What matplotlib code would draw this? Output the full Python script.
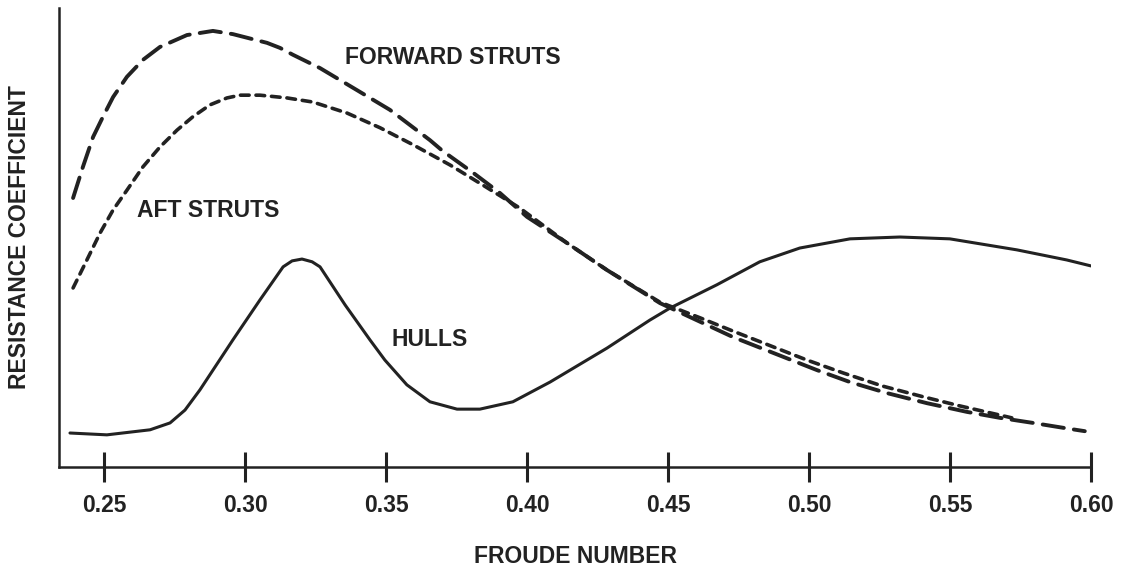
"""Resistance coefficient vs Froude number for hulls, forward and aft struts."""

import matplotlib.pyplot as plt

plt.switch_backend("Agg")
plt.rcParams["font.family"] = ["Liberation Sans", "DejaVu Sans"]

INK = "#222222"

# values (arbitrary resistance units, 0..1)
forward_froude = [0.2389, 0.2424, 0.2460, 0.2495, 0.2531, 0.2580, 0.2637, 0.2697, 0.2793,
                  0.2885, 0.2956, 0.3077, 0.3123, 0.3169, 0.3265, 0.3396, 0.3513, 0.3655,
                  0.3701, 0.3808, 0.3903, 0.3999, 0.4141, 0.4283, 0.4471, 0.4730, 0.5028,
                  0.5145, 0.5276, 0.5418, 0.5560, 0.5677, 0.5794, 0.5925, 0.5978]
forward_coef = [0.586, 0.654, 0.719, 0.763, 0.806, 0.850, 0.887, 0.915, 0.941,
                0.950, 0.943, 0.924, 0.913, 0.898, 0.869, 0.821, 0.778, 0.712,
                0.688, 0.641, 0.597, 0.545, 0.488, 0.429, 0.357, 0.283, 0.211,
                0.185, 0.161, 0.139, 0.120, 0.107, 0.096, 0.083, 0.078]

aft_froude = [0.2389, 0.2438, 0.2485, 0.2531, 0.2580, 0.2637, 0.2697, 0.2758, 0.2814,
              0.2875, 0.2935, 0.2981, 0.3052, 0.3148, 0.3240, 0.3361, 0.3478, 0.3595,
              0.3726, 0.3843, 0.3974, 0.4141, 0.4283, 0.4471, 0.4613, 0.4730, 0.4992,
              0.5120, 0.5262, 0.5404, 0.5535, 0.5677, 0.5719]
aft_coef = [0.390, 0.451, 0.510, 0.560, 0.603, 0.654, 0.697, 0.734, 0.763,
            0.789, 0.804, 0.810, 0.810, 0.804, 0.795, 0.771, 0.739, 0.702,
            0.658, 0.614, 0.564, 0.488, 0.429, 0.359, 0.325, 0.296, 0.233,
            0.205, 0.176, 0.153, 0.133, 0.113, 0.107]

hull_froude = [0.2378, 0.2509, 0.2662, 0.2733, 0.2786, 0.2839, 0.2956, 0.3052, 0.3134,
               0.3166, 0.3201, 0.3237, 0.3265, 0.3354, 0.3442, 0.3495, 0.3573, 0.3655,
               0.3751, 0.3832, 0.3949, 0.4081, 0.4283, 0.4435, 0.4506, 0.4673, 0.4825,
               0.4967, 0.5145, 0.5322, 0.5499, 0.5737, 0.5914, 0.6000]
hull_coef = [0.074, 0.070, 0.081, 0.096, 0.124, 0.168, 0.277, 0.364, 0.436,
             0.449, 0.453, 0.447, 0.436, 0.353, 0.277, 0.233, 0.179, 0.142,
             0.126, 0.126, 0.142, 0.185, 0.259, 0.320, 0.346, 0.397, 0.447,
             0.477, 0.497, 0.501, 0.497, 0.473, 0.451, 0.438]

froude_ticks = [0.25, 0.30, 0.35, 0.40, 0.45, 0.50, 0.55, 0.60]
tick_labels = ["0.25", "0.30", "0.35", "0.40", "0.45", "0.50", "0.55", "0.60"]


def main() -> None:
    fig = plt.figure(figsize=(11.3, 5.69), dpi=100)
    ax = fig.add_axes([0.0522, 0.1793, 0.9133, 0.8067])

    ax.plot(hull_froude, hull_coef, color=INK, lw=2.2, solid_capstyle="round",
            solid_joinstyle="round")
    ax.plot(forward_froude, forward_coef, color=INK, lw=2.8,
            dashes=(5.5, 2.6), dash_capstyle="round")
    ax.plot(aft_froude, aft_coef, color=INK, lw=2.6,
            dashes=(2.4, 1.9), dash_capstyle="round")

    text_kw = dict(color=INK, fontsize=16.5, fontweight="bold", ha="center", va="center")
    ax.text(0.3737, 0.891, "FORWARD STRUTS", **text_kw)
    ax.text(0.2868, 0.558, "AFT STRUTS", **text_kw)
    ax.text(0.3655, 0.277, "HULLS", **text_kw)

    ax.set_xlim(0.2339, 0.60)
    ax.set_ylim(0, 1)
    ax.set_xticks(froude_ticks)
    ax.set_xticklabels(tick_labels, fontsize=16.5, fontweight="bold", color=INK)
    ax.set_yticks([])
    ax.tick_params(axis="x", direction="inout", length=21.6, width=2.2, color=INK, pad=9)

    for side in ("top", "right"):
        ax.spines[side].set_visible(False)
    for side in ("left", "bottom"):
        ax.spines[side].set_linewidth(1.8)
        ax.spines[side].set_color(INK)

    ax.set_xlabel("FROUDE NUMBER", fontsize=16.5, fontweight="bold", color=INK, labelpad=20)
    ax.set_ylabel("RESISTANCE COEFFICIENT", fontsize=16.5, fontweight="bold", color=INK,
                  labelpad=20)

    fig.savefig("out.png", dpi=100)
    plt.close(fig)


if __name__ == "__main__":
    main()
